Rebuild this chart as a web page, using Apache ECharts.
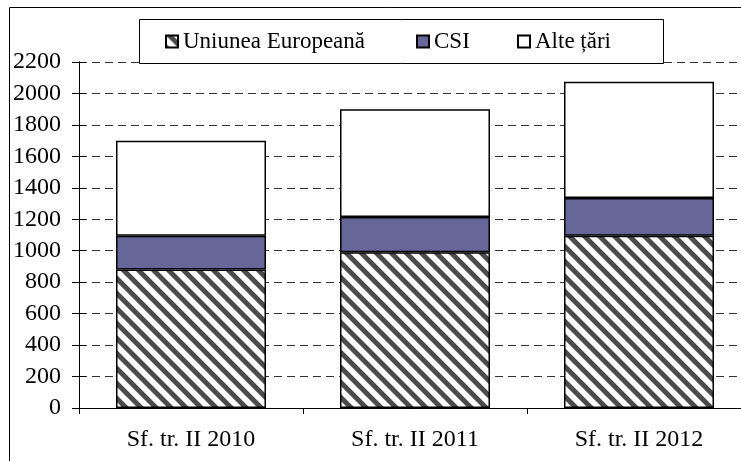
<!DOCTYPE html>
<html>
<head>
<meta charset="utf-8">
<script src="https://cdn.jsdelivr.net/npm/echarts@6/dist/echarts.min.js"></script>
<style>
html,body{margin:0;padding:0;background:#fff;overflow:hidden;width:741px;height:461px;}
#chart{width:770px;height:461px;}
</style>
</head>
<body>
<div id="chart"></div>
<script>
const categories = ['Sf. tr. II 2010', 'Sf. tr. II 2011', 'Sf. tr. II 2012'];
const seriesNames = ['Uniunea Europeană', 'CSI', 'Alte țări'];
const euValues = [880, 990, 1095];
const csiValues = [215, 225, 240];
const otherValues = [605, 685, 740];
const yTicks = [0, 200, 400, 600, 800, 1000, 1200, 1400, 1600, 1800, 2000, 2200];

function makeHatch() {
  const P = 15, W = 7, S = 4;
  const c = document.createElement('canvas');
  c.width = P; c.height = P;
  const ctx = c.getContext('2d');
  const img = ctx.createImageData(P, P);
  for (let y = 0; y < P; y++) {
    for (let x = 0; x < P; x++) {
      let cov = 0;
      for (let sy = 0; sy < S; sy++) for (let sx = 0; sx < S; sx++) {
        const px = x + (sx + 0.5) / S, py = y + (sy + 0.5) / S;
        let d = ((px - py) % P + P) % P;
        if (d < W) cov++;
      }
      cov /= S * S;
      const v = Math.round(255 - cov * (255 - 75));
      const i = (y * P + x) * 4;
      img.data[i] = v; img.data[i + 1] = v; img.data[i + 2] = v; img.data[i + 3] = 255;
    }
  }
  ctx.putImageData(img, 0, 0);
  return c;
}
const hatch = { image: makeHatch(), repeat: 'repeat' };

const font = '"Liberation Serif", serif';
const chart = echarts.init(document.getElementById('chart'), null, { renderer: 'canvas' });

const yBase = {
  type: 'value', min: 0, max: 2200, interval: 200, position: 'left',
  axisLine: { show: true, lineStyle: { color: '#000', width: 1 } }
};

const legendText = { fontFamily: font, fontSize: 23, color: '#000', fontWeight: 'normal' };
const legendBase = (name, left) => ({
  data: [name],
  left: left, top: 30, padding: 0, itemWidth: 12, itemHeight: 12,
  icon: 'rect', z: 20, selectedMode: false,
  formatter: '{t|{name}}',
  textStyle: Object.assign({}, legendText, { rich: { t: Object.assign({}, legendText) } })
});

chart.setOption({
  animation: false,
  backgroundColor: '#fff',
  textStyle: { fontFamily: font },
  grid: { left: 79, top: 62, width: 672, height: 346, containLabel: false },
  graphic: [
    { type: 'rect', z: 100, shape: { x: 9.5, y: 7.5, width: 800, height: 500 },
      style: { fill: 'none', stroke: '#000', lineWidth: 1 }, silent: true },
    { type: 'rect', z: 15, shape: { x: 139.5, y: 19.5, width: 524, height: 44 },
      style: { fill: '#fff', stroke: '#000', lineWidth: 1 }, silent: true }
  ],
  legend: [
    legendBase(seriesNames[0], 165),
    legendBase(seriesNames[1], 416),
    legendBase(seriesNames[2], 517)
  ],
  xAxis: {
    type: 'category', data: categories, boundaryGap: true,
    axisLine: { lineStyle: { color: '#000', width: 1 } },
    axisTick: { show: true, length: 6, lineStyle: { color: '#000' } },
    axisLabel: { fontFamily: font, fontSize: 24, color: '#000', margin: 20 }
  },
  yAxis: [
    Object.assign({}, yBase, {
      axisTick: { show: true, length: 7, lineStyle: { color: '#000' } },
      axisLabel: { fontFamily: font, fontSize: 24, color: '#000', margin: 18,
        formatter: v => yTicks.includes(v) ? String(v) : '' },
      splitLine: { show: true, lineStyle: { color: '#333', type: [8, 5], width: 1 } }
    }),
    Object.assign({}, yBase, {
      axisTick: { show: true, inside: true, length: 7, lineStyle: { color: '#000' } },
      axisLabel: { show: false },
      splitLine: { show: false }
    })
  ],
  series: [
    { name: seriesNames[0], type: 'bar', stack: 'total', data: euValues, barWidth: 150,
      itemStyle: { color: hatch, borderColor: '#000', borderWidth: 1.5 } },
    { name: seriesNames[1], type: 'bar', stack: 'total', data: csiValues, barWidth: 150,
      itemStyle: { color: '#666699', borderColor: '#000', borderWidth: 1.5 } },
    { name: seriesNames[2], type: 'bar', stack: 'total', data: otherValues, barWidth: 150,
      itemStyle: { color: '#ffffff', borderColor: '#000', borderWidth: 1.5 } }
  ]
});
</script>
</body>
</html>
